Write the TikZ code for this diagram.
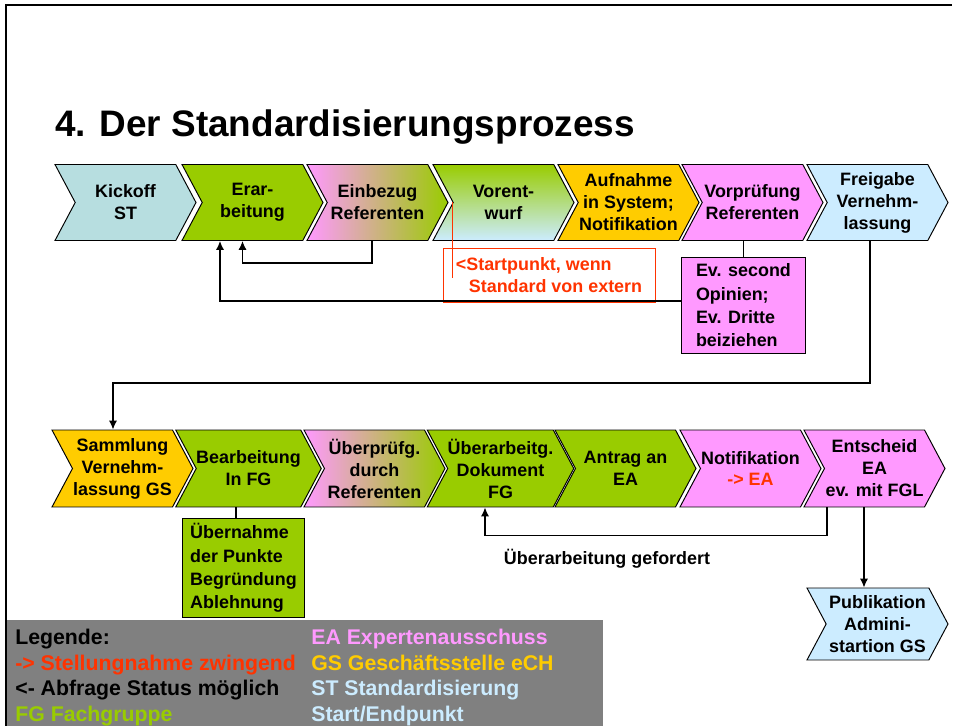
\documentclass[tikz,border=0pt]{standalone}
\usepackage{fontspec}
\setmainfont{Liberation Sans}
\usetikzlibrary{shapes.symbols,arrows.meta,calc}

\definecolor{fgreen}{HTML}{99CC00}
\definecolor{eapink}{HTML}{FF99FF}
\definecolor{gsgold}{HTML}{FFCC00}
\definecolor{stblue}{HTML}{CCECFF}
\definecolor{kickblue}{HTML}{B7DEE0}
\definecolor{mustred}{HTML}{FF3300}
\definecolor{leggray}{HTML}{808080}

\tikzset{
  stepchev/.style={signal,signal from=west,signal to=east,signal pointer angle=124,
    draw=black,line width=0.55pt,minimum width=2.82cm,minimum height=1.52cm,
    inner sep=0pt,align=center,font=\fontsize{10.2}{12.5}\selectfont\bfseries},
  notebox/.style={draw=black,line width=0.55pt,inner sep=0pt,align=left,anchor=north west,
    font=\fontsize{10.2}{13.3}\selectfont\bfseries},
  flow/.style={line width=0.7pt,-{Latex[length=5pt,width=4.5pt]}},
  plain/.style={line width=0.7pt},
  legtext/.style={anchor=north west,align=left,inner sep=0pt,
    font=\fontsize{12.1}{14.5}\selectfont\bfseries}
}

\begin{document}
\begin{tikzpicture}[x=0.02cm,y=-0.02cm]
  \useasboundingbox (0,0) rectangle (961,726);
  \draw[line width=0.85pt] (6,726) -- (6,5) -- (952,5);
  \node[anchor=base west,inner sep=0pt,font=\fontsize{21}{25}\selectfont\bfseries] (title) at (55,137) {4. Der Standardisierungsprozess};

  % first row
  \node[stepchev,fill=kickblue] (kick) at (125.5,202.5) {Kickoff\\ST};
  \node[stepchev,fill=fgreen] (erar) at (252.5,202.5) {Erar-\\beitung};
  \node[stepchev,left color=eapink,right color=fgreen] (einb) at (377.5,202.5) {Einbezug\\Referenten};
  \node[stepchev,top color=fgreen,bottom color=stblue] (vorent) at (503.5,202.5) {Vorent-\\wurf};
  \node[stepchev,fill=gsgold] (aufn) at (628.5,202.5) {Aufnahme\\in System;\\Notifikation};
  \node[stepchev,fill=eapink] (vorpr) at (752.5,202.5) {Vorprüfung\\Referenten};
  \node[stepchev,fill=stblue] (freig) at (877.5,202.5) {Freigabe\\Vernehm-\\lassung};

  \node[notebox,fill=eapink,minimum width=2.48cm,minimum height=1.92cm] (evsec) at (681,257) {Ev. second\\Opinien;\\Ev. Dritte\\beiziehen};
  \node[draw=mustred,line width=0.5pt,text=mustred,align=left,inner sep=0pt,
    minimum width=4.24cm,minimum height=1.08cm,font=\fontsize{10.2}{12.5}\selectfont\bfseries] (startp) at (549,275) {<Startpunkt, wenn\\\hspace*{7.4pt}Standard von extern};

  \coordinate (erarA) at ($(erar.south)+(-32.5,0)$);
  \coordinate (erarB) at ($(erar.south)+(-10,0)$);
  \coordinate (vnotch) at ($(vorent.center)+(-51,0)$);
  \draw[flow] ($(einb.south)+(-5.5,0)$) -- ++(0,22) -| (erarB);
  \draw[flow] ($(evsec.west)+(0,-4.5)$) -| (erarA);
  \draw[plain] (evsec.north) -- (evsec.north |- vorpr.south);
  \draw[mustred,line width=0.5pt] (vnotch) -- ($(vnotch |- startp.center)+(0,3)$);

  % second row
  \node[stepchev,fill=gsgold,minimum height=1.54cm] (samm) at (122.5,468.5) {Sammlung\\Vernehm-\\lassung GS};
  \node[stepchev,fill=fgreen,minimum height=1.54cm] (bearb) at (248.5,468.5) {Bearbeitung\\In FG};
  \node[stepchev,left color=eapink,right color=fgreen,minimum height=1.54cm] (uepr) at (374.5,468.5) {Überprüfg.\\durch\\Referenten};
  \node[stepchev,fill=fgreen,minimum height=1.54cm] (ueba) at (500.5,468.5) {Überarbeitg.\\Dokument\\FG};
  \node[stepchev,fill=fgreen,minimum height=1.54cm] (antr) at (625.5,468.5) {Antrag an\\EA};
  \node[stepchev,fill=eapink,minimum height=1.54cm] (notif) at (750.5,468.5) {Notifikation\\\textcolor{mustred}{-> EA}};
  \node[stepchev,fill=eapink,minimum height=1.54cm] (ents) at (874.5,468.5) {Entscheid\\EA\\ev. mit FGL};
  \node[stepchev,fill=stblue,minimum height=1.44cm] (publ) at (877.5,624) {Publikation\\Admini-\\startion GS};

  \coordinate (sammIn) at ($(samm.north)+(-9.5,0)$);
  \draw[flow] ($(freig.south)+(-7.5,0)$) -- ++(0,142) -| (sammIn);

  \node[notebox,fill=fgreen,minimum width=2.44cm,minimum height=1.98cm] (uebn) at (182,518) {Übernahme\\der Punkte\\Begründung\\Ablehnung};
  \draw[plain] ($(uebn.north)+(-7.5,0)$) -- ($(uebn.north |- bearb.south)+(-7.5,0)$);

  \coordinate (uebaIn) at ($(ueba.south)+(-15.5,0)$);
  \coordinate (entsOut) at ($(ents.south)+(-10.5,0)$);
  \draw[flow] ($(ents.south)+(-47.5,0)$) -- ++(0,28) -| (uebaIn);
  \node[inner sep=0pt,font=\fontsize{10.2}{12}\selectfont\bfseries] (gefo) at (607,559) {Überarbeitung gefordert};
  \draw[flow] (entsOut) -- (entsOut |- publ.north);

  % legend
  \node[fill=leggray,inner sep=0pt,minimum width=11.92cm,minimum height=2.14cm,anchor=north west] (legend) at (7,620) {};
  \node[legtext] (legl) at (15,629) {Legende:\\\textcolor{mustred}{-> Stellungnahme zwingend}\\<- Abfrage Status möglich\\\textcolor{fgreen}{FG Fachgruppe}};
  \node[legtext] (legr) at (311,629) {\textcolor{eapink}{EA Expertenausschuss}\\\textcolor{gsgold}{GS Geschäftsstelle eCH}\\\textcolor{stblue}{ST Standardisierung}\\\textcolor{stblue}{Start/Endpunkt}};
\end{tikzpicture}
\end{document}
